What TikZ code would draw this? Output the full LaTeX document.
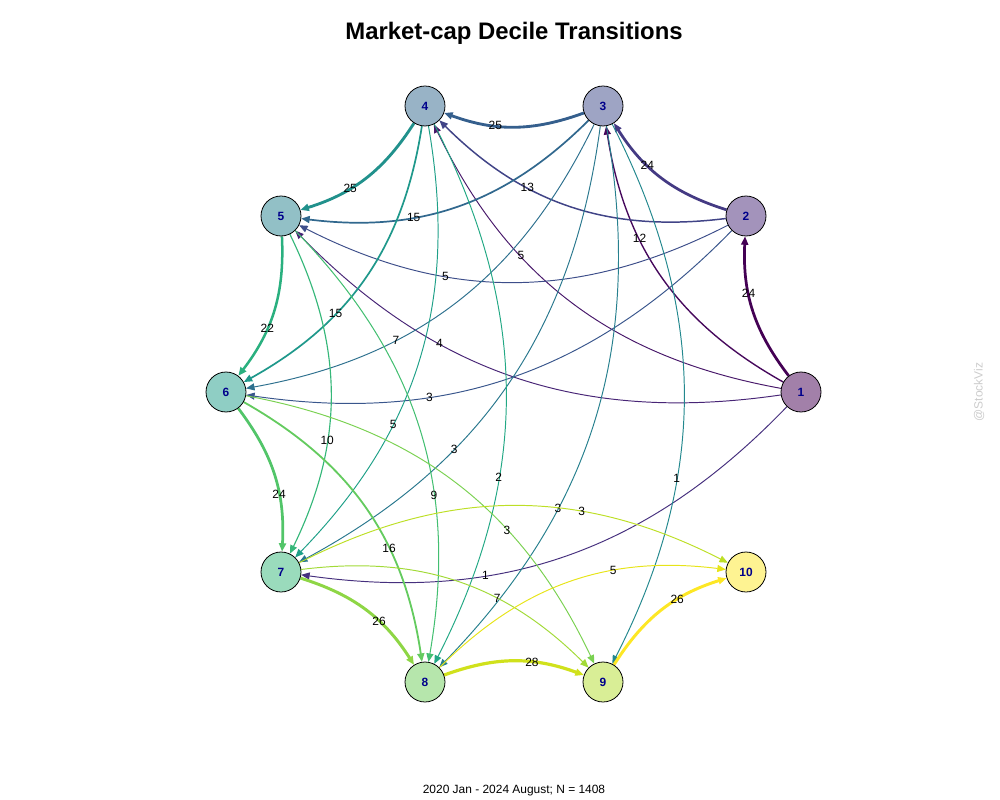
\documentclass[tikz,border=0pt]{standalone}
\usepackage{fontspec}
\setmainfont{Liberation Sans}
\usetikzlibrary{arrows.meta}
\pgfdeclarelayer{bg}
\pgfsetlayers{bg,main}
% viridis(10) node colours
\definecolor{V1}{HTML}{440154}\definecolor{V2}{HTML}{482878}
\definecolor{V3}{HTML}{3E4A89}\definecolor{V4}{HTML}{31688E}
\definecolor{V5}{HTML}{26828E}\definecolor{V6}{HTML}{1F9E89}
\definecolor{V7}{HTML}{35B779}\definecolor{V8}{HTML}{6DCD59}
\definecolor{V9}{HTML}{B4DE2C}\definecolor{V10}{HTML}{FDE725}
% viridis(31) edge colours
\definecolor{E0}{HTML}{440154}\definecolor{E1}{HTML}{46085C}
\definecolor{E2}{HTML}{48186A}\definecolor{E3}{HTML}{482576}
\definecolor{E4}{HTML}{46307E}\definecolor{E5}{HTML}{443A83}
\definecolor{E6}{HTML}{414487}\definecolor{E7}{HTML}{3D4E8A}
\definecolor{E8}{HTML}{39568C}\definecolor{E9}{HTML}{355F8D}
\definecolor{E10}{HTML}{31688E}\definecolor{E11}{HTML}{2D708E}
\definecolor{E12}{HTML}{2A788E}\definecolor{E13}{HTML}{27808E}
\definecolor{E14}{HTML}{23888E}\definecolor{E15}{HTML}{21918C}
\definecolor{E16}{HTML}{1F988B}\definecolor{E17}{HTML}{1FA088}
\definecolor{E18}{HTML}{22A884}\definecolor{E19}{HTML}{2AB07F}
\definecolor{E20}{HTML}{35B779}\definecolor{E21}{HTML}{43BF71}
\definecolor{E22}{HTML}{52C569}\definecolor{E23}{HTML}{64CB5F}
\definecolor{E24}{HTML}{7AD151}\definecolor{E25}{HTML}{8ED645}
\definecolor{E26}{HTML}{A2DA37}\definecolor{E27}{HTML}{BDDF26}
\definecolor{E28}{HTML}{D0E11C}\definecolor{E29}{HTML}{E7E419}
\definecolor{E30}{HTML}{FDE725}
\definecolor{nodeblue}{RGB}{0,0,139}
\tikzset{
  vnode/.style={circle, draw=black, line width=0.45pt, minimum size=0.8cm,
    inner sep=0pt, font=\fontsize{6.8}{8}\selectfont\bfseries, text=nodeblue},
  elab/.style={font=\fontsize{6.8}{8}\selectfont, text=black, inner sep=0pt},
  trans/.style={-{Triangle[length=4.8pt,width=4pt]}},
  adj/.style={trans, bend left=20},
  mid/.style={trans, bend left=26},
  far/.style={trans, bend left=27},
  wt/.style={line width={max(0.55pt,0.065pt*#1)}}
}
\begin{document}
\begin{tikzpicture}[x=0.02cm,y=-0.02cm]
\useasboundingbox (0,0) rectangle (1000,800);
\node[font=\fontsize{13.6}{16}\selectfont\bfseries] (title) at (514,33) {Market-cap Decile Transitions};
\node[font=\fontsize{6.8}{8}\selectfont] (cap) at (514,791) {2020 Jan - 2024 August; N = 1408};
\node[rotate=90, text=black!20, font=\fontsize{6.8}{8}\selectfont] (wm) at (979,392) {@StockViz};

\node[vnode, fill=V1!50!white] (n1) at (801,392) {1};
\node[vnode, fill=V2!50!white] (n2) at (746,216) {2};
\node[vnode, fill=V3!50!white] (n3) at (603,106) {3};
\node[vnode, fill=V4!50!white] (n4) at (425,106) {4};
\node[vnode, fill=V5!50!white] (n5) at (281,216) {5};
\node[vnode, fill=V6!50!white] (n6) at (226,392) {6};
\node[vnode, fill=V7!50!white] (n7) at (281,572) {7};
\node[vnode, fill=V8!50!white] (n8) at (425,682) {8};
\node[vnode, fill=V9!50!white] (n9) at (603,682) {9};
\node[vnode, fill=V10!50!white] (n10) at (746,572) {10};

\begin{pgfonlayer}{bg}
\draw[adj, wt=24, draw=E0]  (n1) to node[elab,pos=.625]{24} (n2);
\draw[mid, wt=12, draw=E1]  (n1) to node[elab,pos=.645]{12} (n3);
\draw[far, wt=5,  draw=E2]  (n1) to node[elab,pos=.662]{5} (n4);
\draw[far, wt=4,  draw=E3]  (n1) to node[elab,pos=.666]{4} (n5);
\draw[far, wt=1,  draw=E4]  (n1) to node[elab,pos=.665]{1} (n7);
\draw[adj, wt=24, draw=E5]  (n2) to node[elab,pos=.639]{24} (n3);
\draw[mid, wt=13, draw=E6]  (n2) to node[elab,pos=.657]{13} (n4);
\draw[far, wt=5,  draw=E7]  (n2) to node[elab,pos=.662]{5} (n5);
\draw[far, wt=3,  draw=E8]  (n2) to node[elab,pos=.666]{3} (n6);
\draw[adj, wt=25, draw=E9]  (n3) to node[elab,pos=.64]{25} (n4);
\draw[mid, wt=15, draw=E10] (n3) to node[elab,pos=.652]{15} (n5);
\draw[far, wt=7,  draw=E11] (n3) to node[elab,pos=.663]{7} (n6);
\draw[far, wt=3,  draw=E12] (n3) to node[elab,pos=.661]{3} (n7);
\draw[far, wt=3,  draw=E13] (n3) to node[elab,pos=.673]{3} (n8);
\draw[far, wt=1,  draw=E14] (n3) to node[elab,pos=.66]{1} (n9);
\draw[adj, wt=25, draw=E15] (n4) to node[elab,pos=.639]{25} (n5);
\draw[mid, wt=15, draw=E16] (n4) to node[elab,pos=.656]{15} (n6);
\draw[far, wt=5,  draw=E17] (n4) to node[elab,pos=.657]{5} (n7);
\draw[far, wt=2,  draw=E18] (n4) to node[elab,pos=.658]{2} (n8);
\draw[adj, wt=22, draw=E19] (n5) to node[elab,pos=.638]{22} (n6);
\draw[mid, wt=10, draw=E20] (n5) to node[elab,pos=.65]{10} (n7);
\draw[far, wt=9,  draw=E21] (n5) to node[elab,pos=.655]{9} (n8);
\draw[adj, wt=24, draw=E22] (n6) to node[elab,pos=.632]{24} (n7);
\draw[mid, wt=16, draw=E23] (n6) to node[elab,pos=.648]{16} (n8);
\draw[far, wt=3,  draw=E24] (n6) to node[elab,pos=.661]{3} (n9);
\draw[adj, wt=26, draw=E25] (n7) to node[elab,pos=.626]{26} (n8);
\draw[mid, wt=7,  draw=E26] (n7) to node[elab,pos=.645]{7} (n9);
\draw[far, wt=3,  draw=E27] (n7) to node[elab,pos=.662]{3} (n10);
\draw[adj, wt=28, draw=E28] (n8) to node[elab,pos=.635]{28} (n9);
\draw[mid, wt=5,  draw=E29] (n8) to node[elab,pos=.65]{5} (n10);
\draw[adj, wt=26, draw=E30] (n9) to node[elab,pos=.639]{26} (n10);
\end{pgfonlayer}
\end{tikzpicture}
\end{document}
